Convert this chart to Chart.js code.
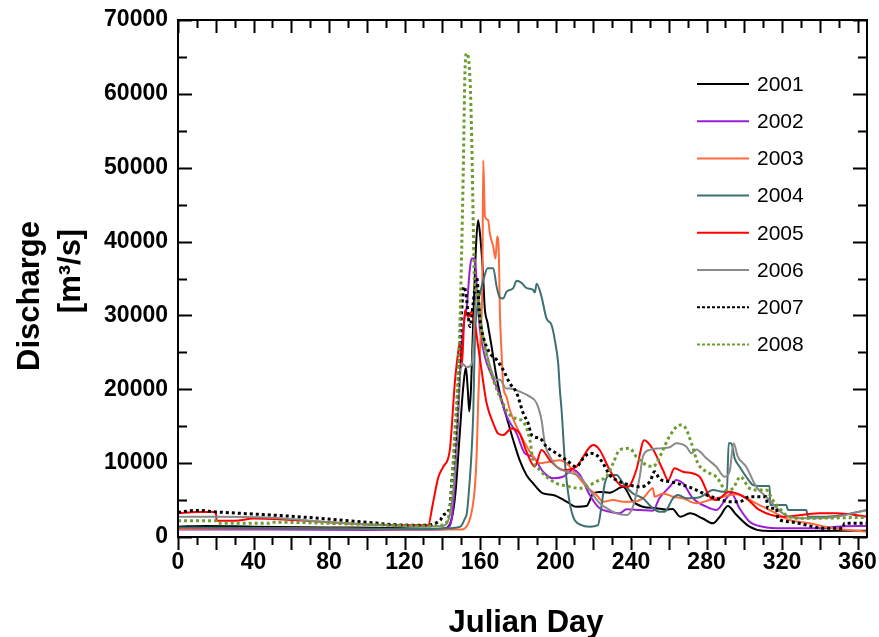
<!DOCTYPE html>
<html>
<head>
<meta charset="utf-8">
<script src="https://cdn.jsdelivr.net/npm/chart.js"></script>
<style>
  html, body { margin: 0; padding: 0; background: #fff; }
  #wrap { width: 879px; height: 637px; }
</style>
</head>
<body>
<div id="wrap"><canvas id="flowChart" width="879" height="637"></canvas></div>
<script>
// Data (Julian day, discharge m3/s)
const years = ['2001', '2002', '2003', '2004', '2005', '2006', '2007', '2008'];
const dayTicks = [0, 40, 80, 120, 160, 200, 240, 280, 320, 360];
const flowTicks = [0, 10000, 20000, 30000, 40000, 50000, 60000, 70000];

const day01 = [0, 15, 40, 80, 120, 135, 142, 145, 147, 149, 151, 152.5, 153.5, 154.3, 155.2, 156.5, 158, 159, 160, 161.5, 162.5, 164, 166, 168.5, 170.5, 174, 177.6, 181, 184.6, 188, 193.4, 198.7, 205.8, 211, 216.4, 220, 223.4, 228.7, 235.8, 241, 246.3, 253.4, 258.7, 262, 266, 271.2, 278, 283.4, 287, 291.3, 295.8, 302.8, 309.8, 330, 365];
const q01 = [1400, 1500, 1400, 1300, 1200, 1100, 1200, 2500, 6000, 13000, 20000, 23000, 20000, 17000, 20000, 30000, 40000, 42900, 41000, 36000, 31000, 29000, 26000, 22000, 19500, 16300, 13100, 10400, 8400, 7300, 5900, 5700, 4800, 4100, 4200, 5900, 6100, 6000, 6800, 4800, 4100, 3900, 3700, 3800, 2750, 3200, 2500, 1850, 2750, 4200, 3000, 1400, 850, 800, 850];

const day02 = [0, 50, 100, 140, 144, 146, 148, 150, 152, 153, 154.5, 155.5, 157.3, 158.5, 160, 163, 166, 170, 174, 179.4, 183.8, 188, 193.4, 198.7, 204, 209.3, 212.9, 218.1, 223.4, 228.7, 234, 237.6, 244.6, 251.6, 255, 260.5, 264, 267.5, 272.8, 279.9, 285.2, 290.5, 293.1, 297.5, 302.8, 309.8, 320.4, 341.6, 348.7, 365];
const q02 = [1000, 1000, 950, 1000, 1500, 5000, 14000, 25000, 30000, 31200, 36000, 37700, 37700, 33000, 28000, 24000, 22000, 19500, 16400, 14000, 11300, 10900, 8840, 7950, 8160, 9070, 8400, 5690, 3880, 3430, 3200, 3750, 3660, 3570, 5240, 6800, 7720, 7270, 5240, 4100, 3660, 5240, 5900, 3880, 2070, 1400, 1180, 1180, 1400, 1490];

const day03 = [0, 60, 100, 130, 150, 153.8, 156, 157.3, 158.2, 159, 160.3, 161.3, 161.7, 162.6, 164.3, 165.2, 167, 168.2, 169.1, 170, 170.5, 171.4, 172.3, 174, 175.8, 179.4, 183.8, 188.1, 191.7, 197, 202.3, 205.8, 211.1, 216.4, 221.7, 225.2, 230.5, 235.8, 241, 246.3, 251.6, 252.5, 257, 262.2, 267.5, 274.6, 281.6, 288.7, 295.8, 306.3, 315.1, 324, 334.6, 346.9, 365];
const q03 = [1100, 1200, 1100, 1000, 1000, 1850, 4000, 6800, 11000, 18100, 27100, 36100, 51000, 43400, 42900, 41100, 39300, 37700, 40700, 38000, 30700, 25000, 20500, 19000, 17200, 14900, 12700, 10900, 9980, 10200, 10400, 9980, 8400, 6800, 5690, 4780, 5000, 4780, 4780, 5240, 6590, 5460, 5900, 5460, 5240, 4560, 5000, 5460, 5780, 4560, 3430, 2300, 1850, 1180, 720];

const day04 = [0, 60, 130, 148, 150, 152, 153, 154.7, 155.5, 156.4, 157.3, 158.5, 160, 162, 164, 167, 168.8, 170.5, 172.3, 174, 177.6, 179.4, 182, 184.7, 188, 189, 190, 192.6, 195.2, 197.9, 199.6, 201.4, 202.3, 203.2, 204.9, 206.7, 209.3, 213.7, 218.1, 222.5, 224.3, 226.1, 228.7, 232.3, 235.8, 241, 246.3, 251.6, 255.2, 257.8, 262.2, 264.9, 269.3, 276.3, 283.4, 288.7, 290.8, 291.7, 293.1, 294.9, 297.5, 301, 304.6, 308.1, 313.4, 313.7, 322.2, 323.1, 332.8, 333.7, 343.4, 352.2, 365];
const q04 = [1300, 1200, 1100, 1300, 1500, 2500, 3200, 8160, 11400, 16750, 27000, 31000, 33000, 35000, 36400, 36400, 33900, 32400, 32300, 33200, 33700, 34700, 34400, 33700, 33500, 33100, 34300, 32500, 29600, 28700, 26700, 23500, 19900, 17200, 10400, 5900, 2750, 1620, 1400, 1620, 4100, 7270, 8400, 8400, 7270, 5900, 5240, 3880, 3430, 3430, 5240, 5690, 5240, 5370, 6360, 6130, 6130, 12700, 12700, 10650, 9520, 8160, 7040, 6900, 6900, 4330, 4330, 3660, 3660, 2750, 2750, 2980, 3660];

const day05 = [0, 10, 20, 20.5, 30, 40, 60, 100, 130, 132.5, 135, 137.8, 140.5, 144, 146.7, 149, 149.4, 150.3, 152, 153.8, 155.5, 157.3, 159, 160.8, 163.5, 167, 169.6, 172.3, 176.7, 181, 184.6, 189, 192.6, 197, 204, 211, 220, 223.4, 228.7, 235, 238.4, 242.8, 247, 251.6, 257, 259.7, 263, 267.5, 276.3, 281.6, 285, 292, 301, 308, 320.4, 339.8, 348.7, 365];
const q05 = [3200, 3400, 3400, 2200, 2200, 2500, 2300, 1700, 1600, 1600, 4500, 8000, 9500, 11800, 21000, 26000, 26300, 23000, 30700, 29800, 30500, 28900, 25800, 22600, 18100, 15400, 14000, 13800, 14700, 14000, 11550, 9520, 11780, 10400, 9070, 9520, 12460, 11780, 9070, 6900, 6800, 9070, 13100, 11870, 9000, 7700, 9300, 8840, 8160, 5460, 5000, 6130, 5240, 3660, 2750, 3200, 3200, 2750];

const day06 = [0, 20, 50, 80, 100, 130, 140, 144, 146.7, 148.5, 150.3, 153, 155.5, 157.3, 158.2, 160, 163.5, 168.8, 170.5, 174, 175.8, 181, 186.4, 190, 192.6, 194.3, 197, 200.5, 205.8, 212.9, 218.1, 223.4, 228.7, 232.3, 237.6, 241, 244.6, 246.3, 250, 255.2, 260.5, 264, 269.3, 272, 274.6, 279.9, 285.2, 289.6, 292.2, 294.3, 296.6, 301, 306.3, 311.6, 320.4, 329.3, 338.1, 348.7, 365];
const q06 = [2750, 2750, 2600, 2000, 1700, 1400, 1500, 3000, 9000, 18100, 23500, 23000, 23300, 30000, 34000, 30000, 24900, 21300, 21300, 20100, 20100, 19700, 19000, 18100, 15800, 12700, 10900, 9520, 8840, 8160, 6360, 4560, 3660, 3200, 2980, 4100, 8160, 10900, 11800, 12000, 12150, 12700, 12230, 11330, 11850, 10650, 9520, 8160, 8840, 12700, 10870, 9520, 6800, 5460, 3200, 2530, 2530, 2750, 3660];

const day07 = [0, 10, 20, 49, 66, 102, 119, 130, 139, 140.5, 144, 145, 146.7, 148.5, 150.3, 151.5, 152.5, 154.7, 156.4, 158.2, 160, 161.7, 165.2, 168.8, 172.3, 175.8, 179.4, 182.9, 185.5, 187.3, 191.7, 195.2, 200.5, 205.8, 211.1, 214.6, 218.1, 221.7, 225.2, 228.7, 234, 239.3, 244.6, 250, 252.5, 255.2, 260.5, 267.5, 274.6, 279.9, 285.2, 292.2, 297.5, 302.8, 311.6, 312.5, 317, 317.8, 324, 332.8, 341.6, 352.2, 353.1, 365];
const q07 = [3340, 3600, 3400, 2980, 2700, 1940, 1620, 1600, 2300, 2980, 4000, 7270, 12200, 20400, 30700, 33900, 33000, 28500, 31700, 35200, 29400, 27100, 24900, 24000, 22600, 20800, 19500, 16750, 15400, 13800, 13360, 12230, 11330, 10400, 9520, 10650, 11330, 11100, 9980, 8400, 7490, 7040, 6800, 7500, 8840, 7850, 7490, 7040, 6360, 5690, 5240, 4780, 4780, 5460, 5460, 3880, 3880, 2530, 2070, 1620, 1180, 1180, 1850, 1850];

const day08 = [0, 20, 21, 48, 50, 100, 130, 140, 144, 146.7, 148.5, 149.4, 151.1, 152, 152.9, 154.7, 155.6, 156.4, 157.3, 158.2, 160.8, 163.5, 167, 170.5, 175, 179.4, 182.9, 186.4, 188.1, 191.7, 195.2, 200.5, 205.8, 212.9, 218.1, 223.4, 227, 230.5, 234, 239.3, 242.8, 248.1, 251.6, 255.2, 260.5, 266, 268.4, 272, 275.4, 279.9, 285.2, 290.5, 294, 297.9, 302.8, 308.1, 311.6, 315.1, 318.7, 322.2, 329.3, 365];
const q08 = [2200, 2200, 1850, 1850, 2000, 1700, 1500, 1600, 3500, 14500, 22600, 29400, 49200, 62800, 65500, 61900, 53800, 42500, 33400, 33400, 28000, 24400, 21300, 19000, 16750, 16000, 15600, 13130, 10400, 9070, 8160, 7270, 6900, 6590, 7040, 7720, 8160, 9980, 11800, 12000, 10870, 9750, 9520, 10870, 13700, 15160, 14940, 12700, 9980, 8840, 8160, 6360, 6590, 8160, 6590, 6360, 6360, 5000, 3880, 2980, 2530, 2660];

const allDays = [day01, day02, day03, day04, day05, day06, day07, day08];
const allFlows = [q01, q02, q03, q04, q05, q06, q07, q08];

// line styles per year
const lineColors = ['#000000', '#9a1fd4', '#ff6a3d', '#3d7070', '#ff0000', '#8a8a8a', '#000000', '#6c9d31'];
const dashed = [false, false, false, false, false, false, true, true];

const FONT = "'Liberation Sans', Arial, Helvetica, sans-serif";

const datasets = years.map((yr, i) => ({
  label: yr,
  data: allDays[i].map((d, k) => ({ x: d, y: allFlows[i][k] })),
  borderColor: lineColors[i],
  borderWidth: dashed[i] ? 3 : 2,
  borderDash: dashed[i] ? [3, 3] : [],
  borderJoinStyle: 'round',
  cubicInterpolationMode: 'monotone',
  pointRadius: 0,
  fill: false,
  order: years.length - i
}));

// Frame, inward ticks, axis titles and legend
const decorations = {
  id: 'decorations',
  afterDraw(chart) {
    const { ctx, chartArea: a, scales: { x, y } } = chart;
    ctx.save();
    ctx.strokeStyle = '#000';
    ctx.lineWidth = 2;
    ctx.strokeRect(a.left, a.top, a.right - a.left, a.bottom - a.top);

    ctx.beginPath();
    for (let d = 0; d <= 360; d += 10) {
      const px = Math.round(x.getPixelForValue(d)) + 0.5;
      const len = d % 20 === 0 ? 13 : 8;
      ctx.moveTo(px, a.top); ctx.lineTo(px, a.top + len);
      ctx.moveTo(px, a.bottom); ctx.lineTo(px, a.bottom + len);
    }
    for (let v = 0; v <= 70000; v += 5000) {
      const py = Math.round(y.getPixelForValue(v)) + 0.5;
      const len = v % 10000 === 0 ? 14 : 9;
      ctx.moveTo(a.left, py); ctx.lineTo(a.left + len, py);
      ctx.moveTo(a.right, py); ctx.lineTo(a.right - len, py);
    }
    ctx.stroke();

    // axis titles
    ctx.fillStyle = '#000';
    ctx.font = 'bold 31px ' + FONT;
    ctx.textAlign = 'center';
    ctx.textBaseline = 'alphabetic';
    ctx.fillText('Julian Day', 526, 632);

    ctx.save();
    ctx.translate(39, 296);
    ctx.rotate(-Math.PI / 2);
    ctx.fillText('Discharge', 0, 0);
    ctx.restore();
    ctx.save();
    ctx.translate(80, 271);
    ctx.rotate(-Math.PI / 2);
    ctx.fillText('[m\u00B3/s]', 0, 0);
    ctx.restore();

    // legend
    ctx.font = '21px ' + FONT;
    ctx.textAlign = 'left';
    ctx.textBaseline = 'middle';
    chart.data.datasets.forEach((ds, i) => {
      const ly = 84 + i * 37.2;
      ctx.beginPath();
      ctx.strokeStyle = ds.borderColor;
      ctx.lineWidth = 2;
      ctx.setLineDash(dashed[i] ? [3, 2] : []);
      ctx.moveTo(697, ly);
      ctx.lineTo(749, ly);
      ctx.stroke();
      ctx.setLineDash([]);
      ctx.fillStyle = '#000';
      ctx.fillText(ds.label, 757, ly + 1);
    });
    ctx.restore();
  }
};

const chart = new Chart(document.getElementById('flowChart'), {
  type: 'line',
  data: { datasets: datasets },
  options: {
    responsive: false,
    animation: false,
    events: [],
    layout: { padding: { left: 0, top: 20, right: 12, bottom: 0 } },
    plugins: { legend: { display: false }, tooltip: { enabled: false } },
    scales: {
      x: {
        type: 'linear',
        min: 0,
        max: 365,
        grid: { display: false, drawTicks: false },
        border: { display: false },
        afterBuildTicks: s => { s.ticks = dayTicks.map(v => ({ value: v })); },
        afterFit: s => { s.height = 100; s.paddingLeft = 0; s.paddingRight = 0; },
        ticks: {
          padding: 12,
          color: '#000',
          maxRotation: 0,
          font: { family: FONT, size: 23, weight: 'bold' },
          callback: v => String(v)
        }
      },
      y: {
        type: 'linear',
        min: 0,
        max: 70000,
        grid: { display: false, drawTicks: false },
        border: { display: false },
        afterBuildTicks: s => { s.ticks = flowTicks.map(v => ({ value: v })); },
        afterFit: s => { s.width = 178; s.paddingTop = 0; s.paddingBottom = 0; },
        ticks: {
          padding: 10,
          color: '#000',
          font: { family: FONT, size: 23, weight: 'bold' },
          callback: v => String(v)
        }
      }
    }
  },
  plugins: [decorations]
});
</script>
</body>
</html>
